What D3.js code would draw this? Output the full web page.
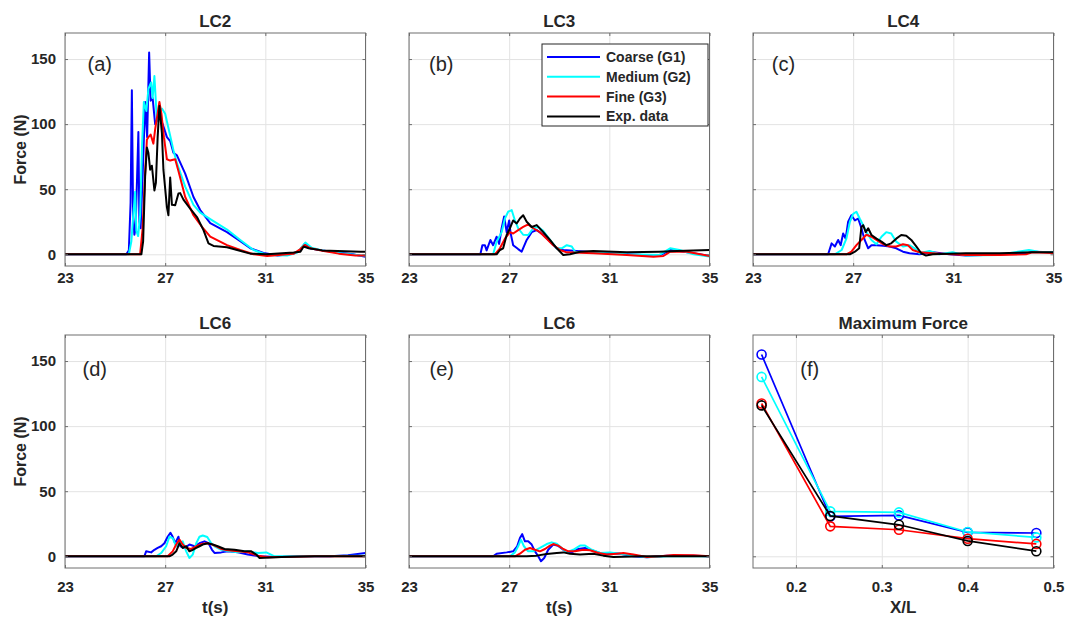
<!DOCTYPE html>
<html>
<head>
<meta charset="utf-8">
<script src="https://cdn.jsdelivr.net/npm/d3@7"></script>
<style>
    body { margin: 0; background: #fff; }
    svg text { font-family: "Liberation Sans", Arial, Helvetica, sans-serif; fill: #262626; }
</style>
</head>
<body>
<svg id="chart" width="1066" height="617"></svg>
<script>
// tick values and series names
const timeTicks = [23, 27, 31, 35];
const forceTicks = [0, 50, 100, 150];
const ratioTicks = [0.2, 0.3, 0.4, 0.5];
const seriesNames = ["Coarse (G1)", "Medium (G2)", "Fine (G3)", "Exp. data"];
const seriesColors = ["#0000ff", "#00ffff", "#ff0000", "#000000"];

// (a) LC2, [t, force]
const lc2Coarse = [[23,0],[25.45,0],[25.55,3],[25.62,40],[25.67,126],[25.72,30],[25.77,15],[25.82,20],[25.88,60],[25.93,94],[25.97,25],[26.02,20],[26.1,60],[26.2,117],[26.28,90],[26.36,155],[26.42,118],[26.5,120],[26.6,100],[26.7,104],[26.8,105],[26.9,100],[27.07,90],[27.2,87],[27.33,78],[27.47,76],[27.8,62],[28.13,44],[28.4,34],[28.8,24],[29.47,17],[30,10],[30.4,4.6],[30.93,1],[31.5,-1],[32.13,0.5],[32.4,3],[32.57,8],[32.8,4.5],[33.27,3],[33.93,1.3],[34.5,0],[35,-2]];
const lc2Medium = [[23,0],[25.55,0],[25.65,10],[25.72,28],[25.8,48],[25.85,18],[25.92,14],[26.0,30],[26.08,85],[26.15,117],[26.25,110],[26.33,127],[26.44,132],[26.5,120],[26.57,137],[26.67,103],[26.75,108],[26.87,112],[27.0,108],[27.2,91],[27.33,80],[27.47,70],[27.8,52],[28.13,38],[28.4,32],[28.8,27],[29.47,19],[30,11],[30.53,3.3],[31.07,-0.5],[31.87,-1],[32.27,1.3],[32.6,9],[32.85,5],[33.27,3],[33.93,1],[34.8,-1],[35,-1]];
const lc2Fine = [[23,0],[26.0,0],[26.1,20],[26.2,62],[26.27,88],[26.33,90],[26.42,92],[26.53,85],[26.6,96],[26.77,117],[26.85,108],[26.95,90],[27.07,73],[27.2,72],[27.4,73],[27.53,64],[27.8,44],[28.13,30],[28.47,21],[28.8,13.5],[29.47,7],[30,3.3],[30.53,0],[31.07,-1.3],[32.13,0.5],[32.4,4],[32.57,7.2],[32.8,4.6],[33.27,2.7],[33.93,0.5],[34.6,-1],[35,-1]];
const lc2Exp = [[23,0],[26.05,0],[26.12,10],[26.2,60],[26.27,82],[26.33,78],[26.4,65],[26.47,68],[26.57,49],[26.63,55],[26.7,90],[26.77,114],[26.87,93],[26.93,65],[27.07,36],[27.13,30],[27.2,59],[27.27,38],[27.4,37.6],[27.53,46.7],[27.6,47],[27.73,42],[28.0,35],[28.27,28.6],[28.53,18.6],[28.73,8.4],[28.93,6.4],[29.47,5.4],[30.13,2],[30.4,0.5],[31.07,0],[32.13,1.3],[32.4,2],[32.53,6],[32.73,4.6],[33.27,3],[34.8,2],[35,2]];

// (b) LC3
const lc3Coarse = [[23,0],[25.85,0],[25.93,7],[26.03,7],[26.1,3],[26.25,11],[26.36,7],[26.5,13.5],[26.6,8],[26.7,20],[26.8,29],[26.9,17],[27,26],[27.05,17],[27.16,7],[27.36,4],[27.5,2],[27.7,11],[27.9,17],[28.1,18.6],[28.36,15],[28.63,9.7],[28.9,4.6],[29.16,3.3],[29.7,2.5],[30.36,1.5],[31,0.8],[32.36,-0.5],[33,-1],[33.43,3.3],[33.8,2.5],[34.36,0.8],[35,-1.3]];
const lc3Medium = [[23,0],[26.36,0],[26.5,9.7],[26.7,17],[26.83,27.5],[26.96,32.7],[27.1,34],[27.23,26],[27.36,20],[27.56,15],[27.76,14.8],[27.96,20],[28.16,21],[28.36,18],[28.63,11],[28.9,4.6],[29.1,4.6],[29.3,7],[29.5,6],[29.63,2],[30.36,1.3],[31.7,0],[33,-0.5],[33.43,4.6],[33.8,3.3],[34.36,0],[35,-1.8]];
const lc3Fine = [[23,0],[26.43,0],[26.63,4.6],[26.83,12],[27.03,17],[27.16,16],[27.36,18.6],[27.56,21],[27.76,23],[27.96,20],[28.23,17],[28.5,12],[28.76,7],[29.03,3.3],[29.3,1.5],[30.36,0.8],[31.7,-0.5],[32.76,-1.8],[33.16,-1.3],[33.43,2],[34.1,2],[35,-1.3]];
const lc3Exp = [[23,0],[26.5,0],[26.63,3.3],[26.76,4.6],[26.9,14.8],[27.03,20],[27.16,26],[27.3,23.7],[27.43,27.5],[27.56,30],[27.7,25],[27.9,21],[28.1,22.4],[28.36,17],[28.63,11],[28.9,4.6],[29.16,-0.5],[29.43,0],[29.83,2],[30.36,2.5],[31.7,1.5],[33,2],[33.7,2.5],[35,3.3]];

// (c) LC4
const lc4Coarse = [[23,0],[26,0],[26.14,8.4],[26.27,6],[26.4,11],[26.5,7],[26.6,16],[26.7,12],[26.8,25],[26.93,30],[27.07,26],[27.2,27.5],[27.33,20],[27.46,11],[27.6,4.6],[27.73,7],[27.93,7],[28.2,6.6],[28.46,6],[28.72,4.6],[28.99,2],[29.25,0.8],[29.65,0],[30.18,1.5],[30.84,0],[31.5,-1],[32.2,-0.5],[32.85,0],[33.9,0.5],[34.15,2],[35,1.5]];
const lc4Medium = [[23,0],[26.27,0],[26.54,3.3],[26.73,12],[26.87,25],[27,31],[27.13,32.7],[27.26,27.5],[27.4,22.4],[27.53,17],[27.73,11],[27.93,7.7],[28.13,13.5],[28.32,17],[28.52,16],[28.72,9.7],[28.99,6],[29.25,7],[29.45,4.6],[29.65,0.8],[30.05,2.5],[30.44,0],[30.97,1.5],[31.5,-1],[32.8,-0.5],[34.02,3.3],[34.4,2],[35,1.5]];
const lc4Fine = [[23,0],[26.73,0],[26.93,2],[27.13,7],[27.33,11],[27.53,15],[27.73,13.5],[27.93,11],[28.2,7.7],[28.46,6],[28.72,6],[28.99,7.7],[29.19,7],[29.38,3.3],[29.65,1.5],[30.18,0.8],[31.5,-0.5],[32.85,-0.5],[33.9,0],[34.15,1.5],[35,1]];
const lc4Exp = [[23,0],[26.87,0],[27.07,2],[27.24,4.6],[27.33,21],[27.4,22.4],[27.5,17],[27.6,20],[27.73,14.8],[27.93,12],[28.13,9.7],[28.32,7],[28.52,8.4],[28.72,12],[28.92,14.8],[29.12,14.3],[29.32,11],[29.52,6],[29.72,0.8],[29.91,-1],[30.18,0],[31.5,0.8],[32.85,0.8],[34.15,1.5],[35,1.5]];

// (d) LC6
const lc6aCoarse = [[23,0],[26.17,0],[26.24,3.8],[26.44,3],[26.57,5],[26.7,6.4],[26.84,7.7],[26.97,10],[27.1,15],[27.21,18],[27.3,15],[27.4,10],[27.53,15],[27.61,7.7],[27.77,6.4],[27.97,9],[28.17,7.7],[28.37,10],[28.57,11.5],[28.73,10],[28.87,5],[28.97,2.6],[29.24,3],[29.5,3.8],[29.9,3],[30.3,1.3],[30.84,0],[31.37,-0.5],[32.3,0],[33.6,0],[34.3,0.8],[35,2.5]];
const lc6aMedium = [[23,0],[26.64,0],[26.84,2.5],[27.04,7.7],[27.17,15],[27.3,14],[27.44,7.7],[27.57,10],[27.7,11.5],[27.84,3.8],[27.97,-1.3],[28.1,1.3],[28.24,10],[28.37,15],[28.5,16],[28.68,14.8],[28.84,10],[28.97,7.7],[29.24,5],[29.57,3.8],[29.9,3],[30.3,3.8],[30.7,2.5],[31.04,3],[31.37,0],[32.3,0],[35,0.5]];
const lc6aFine = [[23,0],[27.1,0],[27.3,3.8],[27.44,9],[27.57,12.8],[27.7,9],[27.84,6.4],[28.04,5.6],[28.24,7.7],[28.44,9.4],[28.64,10],[28.84,9.4],[29.04,7.7],[29.24,5.6],[29.5,4.6],[29.9,3.8],[30.3,3],[30.7,0.5],[31.1,-0.8],[31.64,-0.5],[32.97,0],[35,0]];
const lc6aExp = [[23,0],[27.17,0],[27.3,1.3],[27.44,3.8],[27.57,10],[27.7,6.4],[27.84,7.7],[27.97,3.8],[28.1,5],[28.24,6.4],[28.37,7.7],[28.5,9],[28.7,10],[28.9,9],[29.1,7.7],[29.37,5.6],[29.77,5],[30.17,3.8],[30.44,3.8],[30.64,1.3],[30.77,-1.3],[31.64,-0.5],[32.97,0],[35,0]];

// (e) LC6
const lc6bCoarse = [[23,0],[26.36,0],[26.5,2],[26.9,3],[27.16,3.8],[27.32,7.7],[27.43,14],[27.52,17],[27.63,11.5],[27.76,11.5],[27.9,9],[28.03,3.8],[28.16,0],[28.27,-3.8],[28.4,-1.3],[28.56,5],[28.76,9],[28.96,8],[29.16,5],[29.43,2.5],[29.76,5.6],[30.03,6.4],[30.3,4.6],[30.63,2.5],[31.03,2.5],[31.43,2],[31.96,0],[32.5,-0.8],[33.3,0.5],[34.36,0.5],[35,0]];
const lc6bMedium = [[23,0],[27.03,0],[27.23,3],[27.36,7.7],[27.47,12.8],[27.59,7.7],[27.76,3.8],[27.96,3.8],[28.23,6.4],[28.5,9.4],[28.7,10.7],[28.9,9.7],[29.1,6.4],[29.3,3],[29.56,5],[29.83,8.2],[30.03,8.2],[30.3,5],[30.63,2.5],[31.03,3],[31.43,2],[31.96,0.5],[32.5,-0.8],[33.3,0],[35,0]];
const lc6bFine = [[23,0],[27.23,0],[27.43,2],[27.63,5],[27.83,6.4],[28.03,5],[28.23,3.8],[28.43,5.6],[28.63,8.2],[28.76,9.4],[28.96,8.2],[29.16,5.6],[29.36,3.8],[29.63,3.8],[29.96,5],[30.23,4.6],[30.56,2.5],[30.9,1.3],[31.3,2],[31.56,2.5],[31.96,1.3],[32.5,-0.5],[33.03,0],[33.56,1],[34.36,0.8],[35,0]];
const lc6bExp = [[23,0],[27.7,0],[28.1,0.5],[28.5,1.8],[28.9,2.5],[29.16,3],[29.43,2],[29.83,1.3],[30.36,2],[30.76,0.5],[31.16,-0.5],[32.36,0],[35,0]];

// (f) maximum force against X/L
const xOverL = [0.16, 0.24, 0.32, 0.40, 0.48];
const maxCoarse = [155, 30.6, 31.4, 18.4, 17.9];
const maxMedium = [137.8, 34.5, 33.7, 18.7, 14.5];
const maxFine = [117.4, 23, 20.4, 13.5, 9.5];
const maxExp = [115.9, 31, 24.2, 11.8, 3.9];

const svg = d3.select("#chart");
const pw = 300.5, ph = 233;
const cols = [65, 409, 753];
const rows = [33, 335];
const y = d3.scaleLinear().domain([-9, 170]).range([ph, 0]);

const panels = [
    { title: "LC2", tag: "(a)", col: 0, row: 0, series: [lc2Coarse, lc2Medium, lc2Fine, lc2Exp], tagAt: [23.9, 146] },
    { title: "LC3", tag: "(b)", col: 1, row: 0, series: [lc3Coarse, lc3Medium, lc3Fine, lc3Exp], tagAt: [23.8, 146], legend: true },
    { title: "LC4", tag: "(c)", col: 2, row: 0, series: [lc4Coarse, lc4Medium, lc4Fine, lc4Exp], tagAt: [23.75, 146] },
    { title: "LC6", tag: "(d)", col: 0, row: 1, series: [lc6aCoarse, lc6aMedium, lc6aFine, lc6aExp], tagAt: [23.7, 144] },
    { title: "LC6", tag: "(e)", col: 1, row: 1, series: [lc6bCoarse, lc6bMedium, lc6bFine, lc6bExp], tagAt: [23.82, 144] },
    { title: "Maximum Force", tag: "(f)", col: 2, row: 1, tagAt: [0.205, 144] }
];

panels.forEach(p => {
    const g = svg.append("g")
        .attr("transform", `translate(${cols[p.col]},${rows[p.row]})`);
    const isMax = !p.series;
    const x = isMax
        ? d3.scaleLinear().domain([0.15, 0.5]).range([0, pw])
        : d3.scaleLinear().domain([23, 35]).range([0, pw]);
    const xt = isMax ? ratioTicks : timeTicks;

    // grid
    g.append("g").attr("transform", `translate(0,${ph})`)
        .call(d3.axisBottom(x).tickValues(xt).tickSize(-ph).tickFormat(""))
        .call(a => a.selectAll("line").attr("stroke", "#e3e3e3"))
        .call(a => a.select(".domain").remove());
    g.append("g")
        .call(d3.axisLeft(y).tickValues(forceTicks).tickSize(-pw).tickFormat(""))
        .call(a => a.selectAll("line").attr("stroke", "#e3e3e3"))
        .call(a => a.select(".domain").remove());

    const clipId = `clip-${p.col}-${p.row}`;
    g.append("clipPath").attr("id", clipId)
        .append("rect").attr("width", pw).attr("height", ph);
    const plot = g.append("g").attr("clip-path", `url(#${clipId})`);

    if (!isMax) {
        const line = d3.line().x(d => x(d[0])).y(d => y(d[1]));
        p.series.forEach((s, i) => {
            plot.append("path")
                .datum(s)
                .attr("fill", "none")
                .attr("stroke", seriesColors[i])
                .attr("stroke-width", 2)
                .attr("stroke-linejoin", "round")
                .attr("d", line);
        });
    } else {
        [maxCoarse, maxMedium, maxFine, maxExp].forEach((vals, i) => {
            const pts = xOverL.map((v, j) => [v, vals[j]]);
            g.append("path")
                .datum(pts)
                .attr("fill", "none")
                .attr("stroke", seriesColors[i])
                .attr("stroke-width", 1.7)
                .attr("d", d3.line().x(d => x(d[0])).y(d => y(d[1])));
            g.selectAll(`.mk${i}`)
                .data(pts)
                .enter()
                .append("circle")
                .attr("cx", d => x(d[0]))
                .attr("cy", d => y(d[1]))
                .attr("r", 4.5)
                .attr("fill", "none")
                .attr("stroke", seriesColors[i])
                .attr("stroke-width", 1.6);
        });
    }

    // axes with inward ticks on all sides
    const axisColor = "#6e6e6e";
    const styleAxis = a => {
        a.selectAll("line").attr("stroke", axisColor);
        a.select(".domain").remove();
        a.selectAll("text").attr("font-size", 15).attr("font-weight", "bold").attr("fill", "#262626");
    };
    g.append("g").attr("transform", `translate(0,${ph})`)
        .call(d3.axisBottom(x).tickValues(xt).tickSize(-3).tickPadding(p.row === 0 ? 6 : 13)
            .tickFormat(isMax ? d3.format(".1f") : d3.format("d")))
        .call(styleAxis);
    g.append("g")
        .call(d3.axisTop(x).tickValues(xt).tickSize(-3).tickFormat(""))
        .call(styleAxis);
    g.append("g")
        .call(d3.axisLeft(y).tickValues(forceTicks).tickSize(-3).tickPadding(9)
            .tickFormat(p.col === 0 ? d3.format("d") : ""))
        .call(styleAxis);
    g.append("g").attr("transform", `translate(${pw},0)`)
        .call(d3.axisRight(y).tickValues(forceTicks).tickSize(-3).tickFormat(""))
        .call(styleAxis);
    g.append("rect")
        .attr("width", pw).attr("height", ph)
        .attr("fill", "none").attr("stroke", axisColor).attr("stroke-width", 1);

    g.append("text")
        .attr("x", pw / 2).attr("y", -6)
        .attr("text-anchor", "middle")
        .attr("font-size", 17).attr("font-weight", "bold")
        .text(p.title);

    g.append("text")
        .attr("x", x(p.tagAt[0])).attr("y", y(p.tagAt[1]))
        .attr("dy", "0.35em")
        .attr("font-size", 20)
        .text(p.tag);

    if (p.col === 0) {
        g.append("text")
            .attr("transform", `translate(${20 - cols[0]},${ph / 2}) rotate(-90)`)
            .attr("text-anchor", "middle")
            .attr("dy", "0.35em")
            .attr("font-size", 16).attr("font-weight", "bold")
            .text("Force (N)");
    }
    if (p.row === 1) {
        g.append("text")
            .attr("x", pw / 2).attr("y", ph + 45)
            .attr("text-anchor", "middle")
            .attr("font-size", 17).attr("font-weight", "bold")
            .text(isMax ? "X/L" : "t(s)");
    }

    if (p.legend) {
        const lg = g.append("g").attr("transform", "translate(133,11)");
        lg.append("rect")
            .attr("width", 166).attr("height", 82)
            .attr("fill", "#fff").attr("stroke", "#262626").attr("stroke-width", 1);
        seriesNames.forEach((name, i) => {
            const yy = 13 + i * 19.8;
            lg.append("line")
                .attr("x1", 5).attr("x2", 58).attr("y1", yy).attr("y2", yy)
                .attr("stroke", seriesColors[i]).attr("stroke-width", 2);
            lg.append("text")
                .attr("x", 64).attr("y", yy).attr("dy", "0.35em")
                .attr("font-size", 14).attr("font-weight", "bold")
                .text(name);
        });
    }
});
</script>
</body>
</html>
